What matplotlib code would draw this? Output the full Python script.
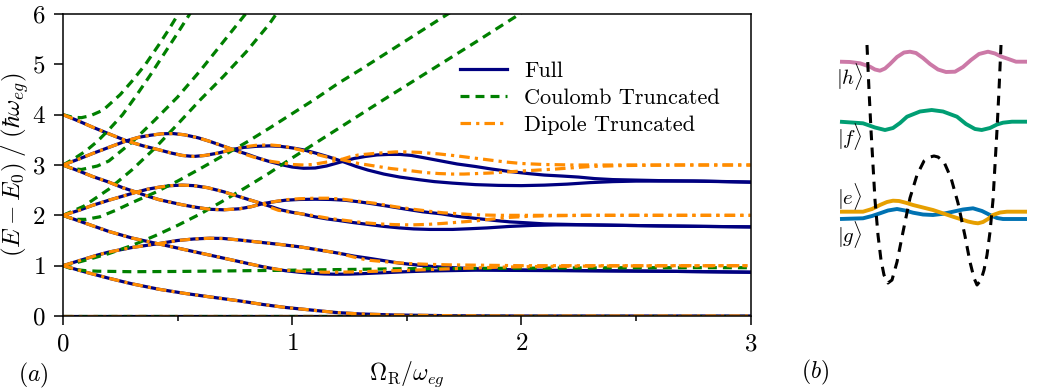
import matplotlib
matplotlib.use("Agg")
import matplotlib.pyplot as plt

plt.rcParams['font.family'] = 'serif'
plt.rcParams['font.serif'] = ['cmr10']
plt.rcParams['mathtext.fontset'] = 'cm'
plt.rcParams['axes.formatter.use_mathtext'] = True
plt.rcParams['font.size'] = 16

# ---- panel (a): energy levels vs Omega_R / omega_eg ----
# Full model
full_0_x = [0, 3.0]
full_0_y = [0, 0]
full_1_x = [0, 0.1, 0.2, 0.3, 0.42, 0.53, 0.64, 0.77, 0.87, 0.97, 1.08, 1.19, 1.3, 1.45, 1.7, 2.0, 3.0]
full_1_y = [1.0, 0.87, 0.75, 0.64, 0.53, 0.45, 0.38, 0.30, 0.23, 0.17, 0.12, 0.07, 0.04, 0.02, 0.005, 0.0, 0.0]
full_2_x = [0, 0.05, 0.1, 0.15, 0.2, 0.3, 0.42, 0.5, 0.57, 0.64, 0.7, 0.77, 0.85, 0.95, 1.04, 1.12, 1.2,
            1.27, 1.33, 1.4, 1.47, 1.55, 1.62, 1.7, 1.8, 1.9, 2.0, 2.2, 2.6, 3.0]
full_2_y = [1.0, 1.07, 1.14, 1.21, 1.27, 1.36, 1.44, 1.50, 1.53, 1.545, 1.54, 1.51, 1.47, 1.42, 1.37, 1.31, 1.25,
            1.19, 1.15, 1.10, 1.05, 1.01, 0.98, 0.96, 0.94, 0.925, 0.915, 0.905, 0.89, 0.87]
full_3_x = [0, 0.1, 0.2, 0.3, 0.42, 0.53, 0.64, 0.77, 0.87, 0.93, 0.97, 1.03, 1.08, 1.14, 1.19, 1.25, 1.3,
            1.4, 1.5, 1.6, 1.8, 2.2, 2.6, 3.0]
full_3_y = [2.0, 1.84, 1.68, 1.55, 1.43, 1.32, 1.21, 1.08, 0.98, 0.93, 0.90, 0.87, 0.85, 0.835, 0.83, 0.832, 0.84,
            0.86, 0.88, 0.895, 0.91, 0.90, 0.89, 0.87]
full_4_x = [0, 0.07, 0.13, 0.2, 0.26, 0.32, 0.37, 0.42, 0.47, 0.52, 0.57, 0.63, 0.7, 0.77, 0.82, 0.87,
            0.91, 0.95, 1.0, 1.04, 1.1, 1.15, 1.2, 1.26, 1.33, 1.4, 1.47, 1.53, 1.6, 1.7, 1.78, 1.85,
            1.95, 2.05, 2.15, 2.3, 2.6, 3.0]
full_4_y = [2.0, 2.10, 2.20, 2.30, 2.38, 2.46, 2.52, 2.56, 2.59, 2.60, 2.59, 2.55, 2.47, 2.37, 2.30, 2.23,
            2.17, 2.11, 2.06, 2.03, 1.97, 1.93, 1.90, 1.86, 1.82, 1.78, 1.75, 1.73, 1.72, 1.72, 1.735, 1.75,
            1.78, 1.80, 1.81, 1.81, 1.79, 1.77]
full_5_x = [0, 0.07, 0.13, 0.2, 0.26, 0.32, 0.37, 0.42, 0.47, 0.52, 0.58, 0.64, 0.7, 0.77, 0.82, 0.87,
            0.92, 0.97, 1.03, 1.1, 1.17, 1.23, 1.29, 1.35, 1.42, 1.5, 1.57, 1.65, 1.72, 1.8, 1.88, 1.95,
            2.03, 2.1, 2.2, 2.3, 2.6, 3.0]
full_5_y = [3.0, 2.88, 2.77, 2.66, 2.55, 2.46, 2.38, 2.31, 2.26, 2.21, 2.16, 2.12, 2.11, 2.13, 2.17, 2.23,
            2.27, 2.30, 2.315, 2.32, 2.315, 2.30, 2.27, 2.23, 2.18, 2.12, 2.07, 2.03, 1.98, 1.94, 1.90, 1.87,
            1.85, 1.83, 1.82, 1.81, 1.79, 1.77]
full_6_x = [0, 0.07, 0.13, 0.2, 0.277, 0.33, 0.38, 0.43, 0.48, 0.53, 0.59, 0.64, 0.69, 0.74, 0.8, 0.85,
            0.9, 0.95, 1.0, 1.05, 1.1, 1.15, 1.22, 1.27, 1.32, 1.37, 1.42, 1.47, 1.52, 1.58, 1.65, 1.72,
            1.8, 1.87, 1.95, 2.03, 2.1, 2.18, 2.25, 2.32, 2.4, 2.5, 2.6, 2.8, 3.0]
full_6_y = [3.0, 3.12, 3.23, 3.35, 3.48, 3.55, 3.59, 3.62, 3.625, 3.60, 3.54, 3.47, 3.39, 3.31, 3.22, 3.14,
            3.07, 3.01, 2.96, 2.935, 2.94, 2.98, 3.07, 3.13, 3.17, 3.20, 3.21, 3.21, 3.19, 3.14, 3.08, 3.02,
            2.97, 2.92, 2.87, 2.83, 2.80, 2.78, 2.76, 2.73, 2.71, 2.70, 2.69, 2.68, 2.66]
full_7_x = [0, 0.07, 0.13, 0.2, 0.277, 0.35, 0.42, 0.47, 0.52, 0.57, 0.62, 0.68, 0.74, 0.79, 0.84, 0.9,
            0.95, 1.0, 1.05, 1.1, 1.16, 1.22, 1.28, 1.33, 1.4, 1.47, 1.55, 1.62, 1.7, 1.8, 1.9, 2.0,
            2.1, 2.2, 2.3, 2.4, 2.5, 2.75, 3.0]
full_7_y = [4.0, 3.87, 3.75, 3.62, 3.48, 3.38, 3.30, 3.24, 3.19, 3.17, 3.19, 3.24, 3.31, 3.35, 3.37, 3.38,
            3.37, 3.34, 3.30, 3.24, 3.16, 3.07, 2.97, 2.90, 2.82, 2.76, 2.71, 2.67, 2.64, 2.61, 2.595, 2.59,
            2.60, 2.62, 2.65, 2.67, 2.68, 2.68, 2.66]

# Coulomb truncated
cou_0_x = [0, 3.0]
cou_0_y = [0, 0]
cou_1_x = [0, 0.03, 0.06, 0.1, 0.15, 0.3, 0.5, 0.8, 1.0, 1.5, 2.0, 2.5, 3.0]
cou_1_y = [1.0, 0.95, 0.92, 0.90, 0.89, 0.88, 0.885, 0.90, 0.91, 0.94, 0.95, 0.96, 0.96]
cou_2_x = [0, 0.05, 0.1, 0.2, 0.3, 0.4, 0.5, 0.6, 0.7, 0.8, 0.9, 1.0, 1.2, 1.4, 1.6, 1.8, 2.0]
cou_2_y = [1.0, 1.05, 1.11, 1.24, 1.40, 1.59, 1.80, 2.03, 2.29, 2.56, 2.84, 3.14, 3.72, 4.30, 4.87, 5.44, 6.02]
cou_3_x = [0, 0.03, 0.06, 0.1, 0.16, 0.23, 0.3, 0.4, 0.5, 0.6, 0.7, 0.8, 0.9, 1.0, 1.1, 1.2, 1.3, 1.4,
           1.5, 1.6, 1.7]
cou_3_y = [2.0, 1.95, 1.92, 1.92, 1.97, 2.10, 2.25, 2.45, 2.68, 2.93, 3.19, 3.45, 3.73, 4.02, 4.31, 4.62, 4.90,
           5.19, 5.48, 5.77, 6.06]
cou_4_x = [0, 0.05, 0.09, 0.2, 0.3, 0.4, 0.5, 0.6, 0.7, 0.8, 0.9, 0.935]
cou_4_y = [2.0, 2.10, 2.18, 2.52, 2.90, 3.33, 3.81, 4.30, 4.76, 5.25, 5.80, 6.03]
cou_5_x = [0, 0.04, 0.08, 0.15, 0.2, 0.3, 0.4, 0.5, 0.6, 0.7, 0.8]
cou_5_y = [3.0, 2.93, 2.91, 2.98, 3.08, 3.45, 3.89, 4.35, 4.88, 5.45, 6.02]
cou_6_x = [0, 0.05, 0.1, 0.15, 0.2, 0.26, 0.32, 0.38, 0.44, 0.5, 0.56]
cou_6_y = [3.0, 3.13, 3.28, 3.47, 3.70, 4.0, 4.38, 4.78, 5.2, 5.62, 6.05]
cou_7_x = [0, 0.04, 0.08, 0.12, 0.175, 0.25, 0.3, 0.36, 0.42, 0.46, 0.51]
cou_7_y = [4.0, 3.95, 3.94, 3.98, 4.09, 4.40, 4.66, 5.0, 5.40, 5.68, 6.05]

# Dipole truncated (identical to Full at weak coupling, then own tail)
dip_0_x = [0, 3.0]
dip_0_y = [0, 0]
dip_1_x = full_1_x
dip_1_y = full_1_y
dip_2_x = full_2_x[:17] + [1.27, 1.33, 1.4, 1.45, 1.52, 1.6, 1.7, 1.8, 2.0, 3.0]
dip_2_y = full_2_y[:17] + [1.17, 1.11, 1.08, 1.06, 1.04, 1.025, 1.015, 1.01, 1.0, 1.0]
dip_3_x = full_3_x[:10] + [0.97, 1.03, 1.08, 1.14, 1.19, 1.26, 1.375, 1.52, 1.7, 1.9, 2.1, 2.4, 3.0]
dip_3_y = full_3_y[:10] + [0.91, 0.89, 0.88, 0.87, 0.87, 0.875, 0.89, 0.91, 0.94, 0.97, 0.985, 0.995, 1.0]
dip_4_x = full_4_x[:16] + [0.91, 0.94, 1.01, 1.085, 1.16, 1.23, 1.3, 1.375, 1.45, 1.52, 1.59, 1.66, 1.73,
                           1.8, 1.88, 1.95, 2.03, 2.1, 2.3, 3.0]
dip_4_y = full_4_y[:16] + [2.15, 2.10, 2.05, 2.00, 1.94, 1.90, 1.86, 1.83, 1.815, 1.81, 1.82, 1.84, 1.865,
                           1.89, 1.93, 1.96, 1.98, 1.99, 2.0, 2.0]
dip_5_x = full_5_x[:17] + [0.97, 1.03, 1.1, 1.16, 1.22, 1.29, 1.36, 1.45, 1.53, 1.6, 1.66, 1.73, 1.8, 1.9, 3.0]
dip_5_y = full_5_y[:17] + [2.31, 2.33, 2.34, 2.34, 2.32, 2.28, 2.24, 2.17, 2.12, 2.08, 2.05, 2.03, 2.01, 2.0, 2.0]
dip_6_x = full_6_x[:14] + [0.79, 0.83, 0.87, 0.91, 0.94, 1.0, 1.05, 1.09, 1.14, 1.18, 1.215, 1.25, 1.29,
                           1.36, 1.45, 1.5, 1.56, 1.64, 1.72, 1.79, 1.86, 1.93, 2.0, 2.1, 2.23, 3.0]
dip_6_y = full_6_y[:14] + [3.22, 3.16, 3.11, 3.07, 3.05, 3.01, 3.00, 3.01, 3.05, 3.08, 3.11, 3.16, 3.20,
                           3.23, 3.26, 3.26, 3.25, 3.22, 3.18, 3.14, 3.10, 3.06, 3.03, 3.01, 3.0, 3.0]
dip_7_x = full_7_x[:13] + [0.79, 0.84, 0.9, 0.95, 1.0, 1.05, 1.1, 1.15, 1.215, 1.25, 1.29, 1.36, 1.43,
                           1.51, 1.58, 1.64, 1.7, 1.75, 1.86, 2.0, 2.15, 2.3, 2.45, 2.7, 3.0]
dip_7_y = full_7_y[:13] + [3.36, 3.39, 3.40, 3.38, 3.34, 3.28, 3.22, 3.16, 3.11, 3.07, 3.03, 2.98, 2.93,
                           2.89, 2.85, 2.83, 2.82, 2.82, 2.84, 2.88, 2.92, 2.97, 2.99, 3.0, 3.0]

full = [(full_0_x, full_0_y), (full_1_x, full_1_y), (full_2_x, full_2_y), (full_3_x, full_3_y),
        (full_4_x, full_4_y), (full_5_x, full_5_y), (full_6_x, full_6_y), (full_7_x, full_7_y)]
coul = [(cou_0_x, cou_0_y), (cou_1_x, cou_1_y), (cou_2_x, cou_2_y), (cou_3_x, cou_3_y),
        (cou_4_x, cou_4_y), (cou_5_x, cou_5_y), (cou_6_x, cou_6_y), (cou_7_x, cou_7_y)]
dip = [(dip_0_x, dip_0_y), (dip_1_x, dip_1_y), (dip_2_x, dip_2_y), (dip_3_x, dip_3_y),
       (dip_4_x, dip_4_y), (dip_5_x, dip_5_y), (dip_6_x, dip_6_y), (dip_7_x, dip_7_y)]

# ---- panel (b): double well schematic (position, height) ----
pot_x = [867, 869, 871, 873, 875, 878, 881, 884, 888, 892, 897, 903, 910, 917, 924, 930, 934,
         938, 944, 951, 958, 965, 970, 974, 977, 981, 984, 987, 990, 993, 995, 997, 999, 1001]
pot_y = [45, 90, 130, 165, 200, 235, 260, 275, 283, 280, 262, 232, 198, 175, 161, 157, 156,
         157, 162, 178, 203, 236, 262, 278, 285, 280, 270, 255, 232, 200, 165, 130, 90, 45]
h_x = [840, 850, 860, 870, 875, 880, 885, 890, 897, 904, 910, 916, 923, 930, 938, 946, 955, 963, 971, 979, 988,
       995, 1001, 1007, 1016, 1027]
h_y = [61.7, 62, 63.3, 66.7, 69.5, 70.7, 68.5, 64, 57, 52.5, 51.7, 53, 58, 64, 69.5, 72, 71.7, 67, 60, 54, 51.7,
       53.5, 56.5, 58.5, 61.7, 61.7]
f_x = [840, 863, 875, 885, 893, 900, 907, 920, 931.7, 943, 957, 966, 975, 981.7, 990, 997, 1003, 1012, 1027]
f_y = [121.7, 123.3, 127.5, 130, 128, 123, 116.7, 111.5, 110, 111.5, 116.7, 124, 129, 130, 128, 124.5, 122.7,
       121.7, 121.7]
e_x = [840, 863, 872, 880, 887, 893, 899, 906, 913, 933, 953, 968, 974, 978, 983, 988, 993, 1000, 1007, 1027]
e_y = [211.7, 211.7, 209, 205, 202, 200.7, 201, 202.8, 205, 210, 216.7, 221.5, 222.8, 223.3, 222, 219, 215,
       212.5, 211.7, 211.7]
g_x = [840, 863, 872, 880, 888, 897, 905, 913, 923, 933, 943, 953, 963, 973, 982, 990, 997, 1003, 1027]
g_y = [219, 218.3, 216, 213.3, 210.5, 209, 210.5, 212.7, 214.5, 215, 213.8, 211.7, 209.5, 208.3, 211, 215, 218,
       219, 219]
state_labels = [r'$|h\rangle$', r'$|f\rangle$', r'$|e\rangle$', r'$|g\rangle$']
label_y = [76, 137, 197, 234]

navy = '#000080'
green = '#008000'
orange = '#FF8C00'

fig = plt.figure(figsize=(10.56, 3.89), dpi=100)
ax = fig.add_axes([63 / 1056, 73 / 389, 687.5 / 1056, 302 / 389])

for i, (xx, yy) in enumerate(full):
    ax.plot(xx, yy, color=navy, lw=2.3, label='Full' if i == 0 else None)
for i, (xx, yy) in enumerate(coul):
    ax.plot(xx, yy, color=green, lw=2.3, dashes=(2.8, 1.9), label='Coulomb Truncated' if i == 0 else None)
for i, (xx, yy) in enumerate(dip):
    ax.plot(xx, yy, color=orange, lw=2.3, dashes=(3.3, 1.6, 1.0, 1.6), label='Dipole Truncated' if i == 0 else None)

ax.set_xlim(0, 3)
ax.set_ylim(0, 6)
ax.set_xticks([0, 1, 2, 3])
ax.set_xticks([0.5, 1.5, 2.5], minor=True)
ax.set_yticks([0, 1, 2, 3, 4, 5, 6])
ax.tick_params(which='major', direction='out', length=6.5, width=1.1, labelsize=18, pad=6)
ax.tick_params(which='minor', direction='out', length=3.5, width=1.1)
for s in ax.spines.values():
    s.set_linewidth(1.1)
ax.set_xlabel(r'$\Omega_{\rm R}/\omega_{eg}$', fontsize=17, va='center')
ax.xaxis.set_label_coords(0.5, -0.192)
ax.set_ylabel(r'$(E-E_0)\;/\;(\hbar\omega_{eg})$', fontsize=18, va='center')
ax.yaxis.set_label_coords(-0.069, 0.5)
ax.legend(loc='upper right', bbox_to_anchor=(0.985, 0.91), frameon=False, fontsize=16,
          handlelength=2.1, labelspacing=0.33, handletextpad=0.8)

fig.text(33 / 1056, 1 - 375 / 389, r'$(a)$', ha='center', va='center', fontsize=17)
fig.text(815 / 1056, 1 - 372 / 389, r'$(b)$', ha='center', va='center', fontsize=17)

# panel (b)
axb = fig.add_axes([830 / 1056, 89 / 389, 210 / 1056, 270 / 389])
axb.set_xlim(830, 1040)
axb.set_ylim(300, 30)
axb.axis('off')
axb.plot(g_x, g_y, color='#0072B2', lw=2.8, solid_capstyle='butt')
axb.plot(e_x, e_y, color='#E69F00', lw=2.8, solid_capstyle='butt')
axb.plot(f_x, f_y, color='#009E73', lw=2.8, solid_capstyle='butt')
axb.plot(h_x, h_y, color='#CC79A7', lw=2.8, solid_capstyle='butt')
axb.plot(pot_x, pot_y, color='black', lw=2.2, dashes=(3.2, 2.4))
for lab, yy in zip(state_labels, label_y):
    axb.text(850, yy, lab, ha='center', va='center', fontsize=15)

fig.savefig('out.png', dpi=100)
